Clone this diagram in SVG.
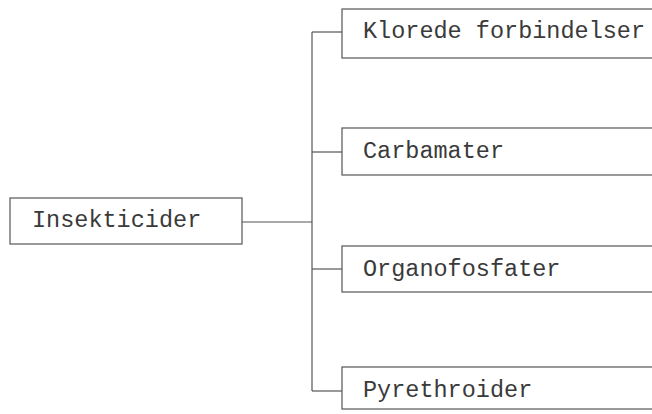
<svg xmlns="http://www.w3.org/2000/svg" width="652" height="414" viewBox="0 0 652 414">
<style>
.box{fill:#fff;stroke:#555;stroke-width:1.2}
.lbl{font-family:"Liberation Mono","Courier New",monospace;font-size:23.5px;fill:#3a3a3a}
.con{fill:none;stroke:#555;stroke-width:1.2}
</style>
<rect width="652" height="414" fill="#fff"/>
<g id="connectors">
<path class="con" d="M242,222 H312"/>
<path class="con" d="M312,32 V391"/>
<path class="con" d="M312,32 H342"/>
<path class="con" d="M312,152 H342"/>
<path class="con" d="M312,269 H342"/>
<path class="con" d="M312,391 H342"/>
</g>
<g id="insekticider">
<rect class="box" x="10" y="198" width="232" height="46"/>
<text class="lbl" x="32" y="227">Insekticider</text>
</g>
<g id="klorede">
<rect class="box" x="342" y="9" width="330" height="49"/>
<text class="lbl" x="363" y="38">Klorede forbindelser</text>
</g>
<g id="carbamater">
<rect class="box" x="342" y="128" width="330" height="47"/>
<text class="lbl" x="363" y="158">Carbamater</text>
</g>
<g id="organofosfater">
<rect class="box" x="342" y="246" width="330" height="46"/>
<text class="lbl" x="363" y="276">Organofosfater</text>
</g>
<g id="pyrethroider">
<rect class="box" x="342" y="367" width="330" height="42"/>
<text class="lbl" x="363" y="397">Pyrethroider</text>
</g>
</svg>
